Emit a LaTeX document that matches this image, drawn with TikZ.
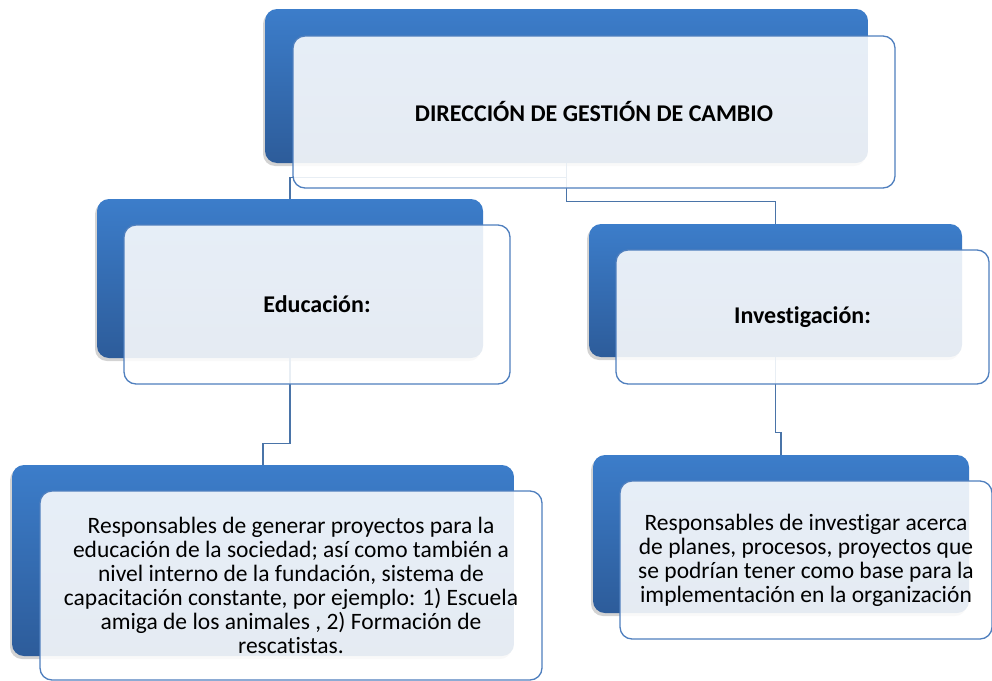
\documentclass[tikz,border=0pt]{standalone}
\usepackage{fontspec}
\setmainfont{Carlito}[Ligatures=CommonOff]
\usetikzlibrary{shadows}
\definecolor{boxblue}{HTML}{3C7DCA}
\definecolor{boxdark}{HTML}{2D5C9A}
\definecolor{edgeblue}{HTML}{4F7FBE}
\definecolor{linkblue}{HTML}{4A74A8}
\begin{document}
\begin{tikzpicture}[x=1pt,y=-1pt,
	back/.style={rounded corners=12pt, inner sep=0pt, top color=boxblue, bottom color=boxdark,
		drop shadow={shadow xshift=-2pt, shadow yshift=-3pt, opacity=.35}},
	front/.style={rounded corners=12pt, draw=edgeblue, line width=1.3pt, fill=white,
		fill opacity=.88, text opacity=1, align=center, inner sep=0pt},
	link/.style={draw=linkblue, line width=1.4pt},
	head/.style={font=\fontsize{24}{28}\selectfont\bfseries},
	body/.style={font=\fontsize{23.5}{24}\selectfont}]
			\useasboundingbox (0,0) rectangle (992,680);
			
			\node[back, minimum width=603pt, minimum height=154pt] (dirB) at (566.5,86) {};
			\node[back, minimum width=386pt, minimum height=159pt] (eduB) at (290,278.5) {};
			\node[back, minimum width=373pt, minimum height=133pt] (invB) at (775.5,290.5) {};
			\node[back, minimum width=502pt, minimum height=191pt] (eduTxtB) at (263,560.5) {};
			\node[back, minimum width=376pt, minimum height=158pt] (invTxtB) at (781,534) {};
			
			\draw[link] (dirB.south) -- ++(0,14) -| (eduB.north);
			\draw[link] (dirB.south) -- ++(0,38) -| (invB.north);
			\draw[link] (eduB.south) -- ++(0,85) -| (eduTxtB.north);
			\draw[link] (invB.south) -- ++(0,75) -| (invTxtB.north);
			
			\node[front, head, minimum width=602pt, minimum height=152pt] (dir) at (594,112) {DIRECCIÓN DE GESTIÓN DE CAMBIO};
			\node[front, head, minimum width=386pt, minimum height=159pt] (edu) at (317,304.5) {Educación:};
			\node[front, head, minimum width=373pt, minimum height=134pt] (inv) at (802.5,317) {Investigación:};
			\node[front, body, minimum width=502pt, minimum height=189pt] (eduTxt) at (291,585.5)
				{Responsables de generar proyectos para la\\ educación de la sociedad; así como también a\\ nivel interno de la fundación, sistema de\\ capacitación constante, por ejemplo: 1) Escuela\\ amiga de los animales , 2) Formación de\\ rescatistas.};
			\node[front, body, minimum width=372pt, minimum height=158pt] (invTxt) at (806,560)
				{Responsables de investigar acerca\\ de planes, procesos, proyectos que\\ se podrían tener como base para la\\ implementación en la organización};
			\end{tikzpicture}
\end{document}
